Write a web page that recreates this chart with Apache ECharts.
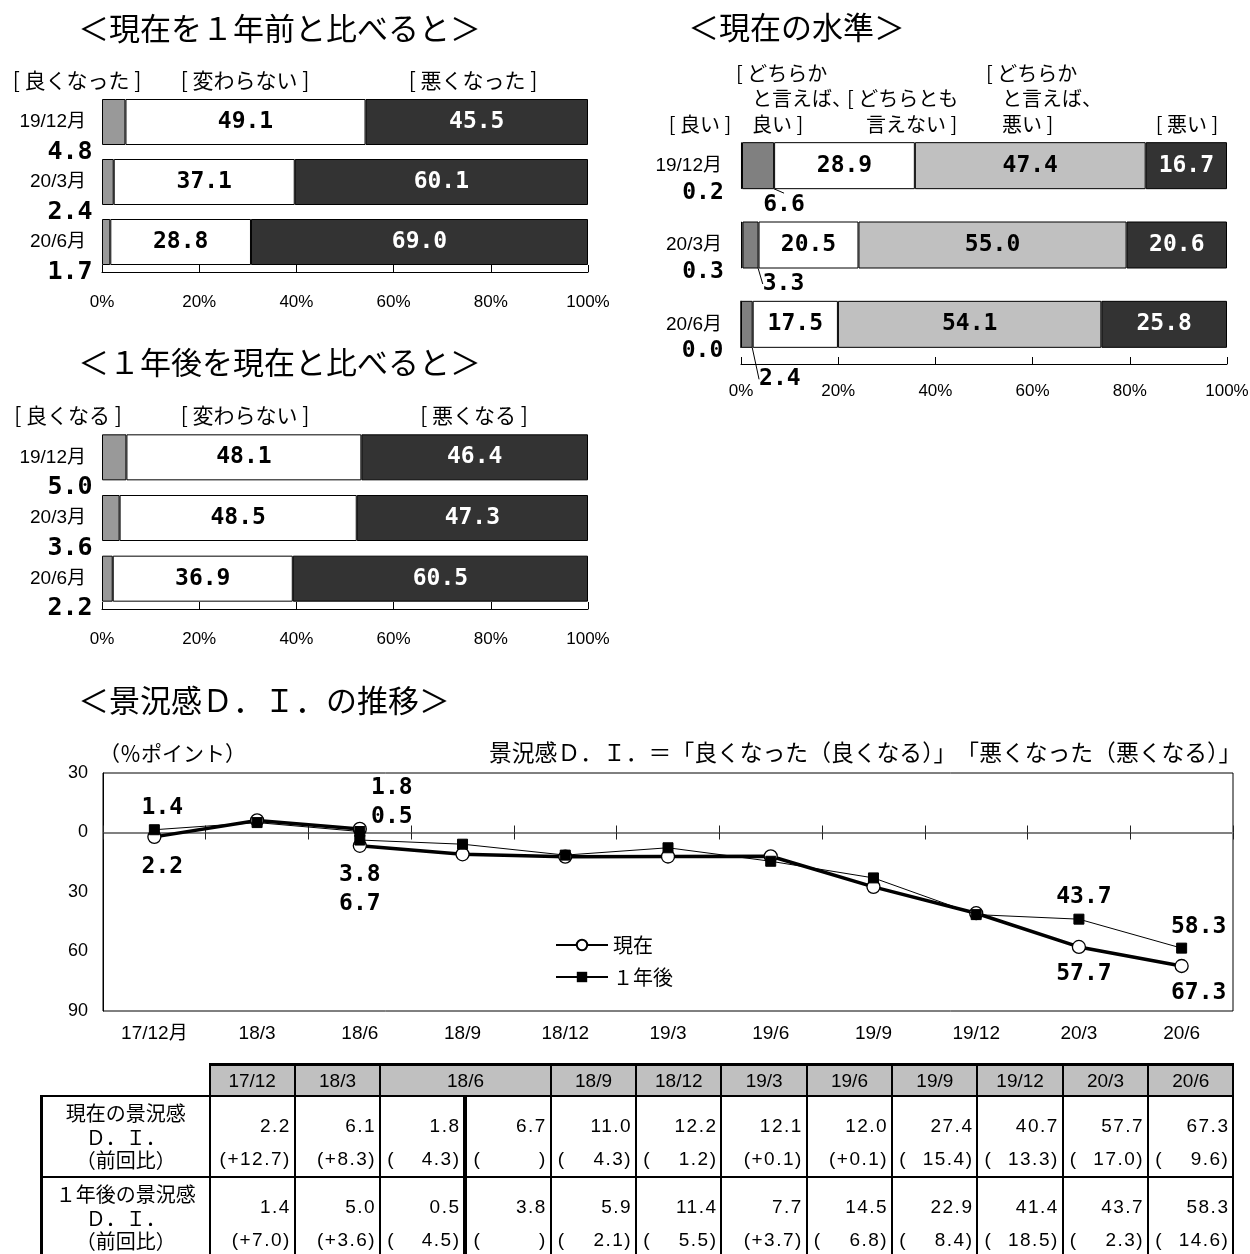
<!DOCTYPE html>
<html><head><meta charset="utf-8">
<script src="https://cdn.jsdelivr.net/npm/echarts@6/dist/echarts.min.js"></script>
<style>
html,body{margin:0;padding:0;background:#fff;width:1250px;height:1254px;overflow:hidden;}
#chart{position:absolute;left:0;top:0;width:1250px;height:1254px;}
#tbl{position:absolute;left:40px;top:1063px;border-collapse:collapse;table-layout:fixed;width:1192px;color:#000;}
#tbl th,#tbl td{border:2px solid #000;padding:0;}
#tbl td.corner{border:none;}
#tbl tr.hd th{background:#c0c0c0;height:29px;font-family:'Liberation Sans',sans-serif;font-weight:normal;font-size:19px;text-align:center;border-top:3px solid #000;}
#tbl th.rh{font-family:'Noto Sans CJK JP',sans-serif;font-weight:normal;font-size:20px;line-height:23.5px;text-align:center;vertical-align:top;padding-top:4px;border-left:3px solid #000;}
#tbl td{font-family:'Liberation Sans',sans-serif;font-size:19px;letter-spacing:1.5px;text-align:right;vertical-align:top;padding:0 3px 0 6px;}
#tbl tr.b1 td,#tbl tr.b1 th{height:75px;}
#tbl tr.b2 td,#tbl tr.b2 th{height:100px;}
#tbl td .v{padding-top:18px;line-height:22px;}
#tbl td .c{margin-top:11px;line-height:22px;display:flex;justify-content:space-between;}
#tbl td.sep{border-right:4px solid #000;}
</style></head><body>
<div id="chart"></div>
<table id="tbl"></table>
<script>
// ---------- data ----------
const barCats = ['19/12月', '20/3月', '20/6月'];
const pctTickLabels = ['0%', '20%', '40%', '60%', '80%', '100%'];

// <現在を1年前と比べると>
const nowBetter = [4.8, 2.4, 1.7];
const nowSame = [49.1, 37.1, 28.8];
const nowWorse = [45.5, 60.1, 69.0];

// <現在の水準>
const levelGood = [0.2, 0.3, 0.0];
const levelRatherGood = [6.6, 3.3, 2.4];
const levelNeither = [28.9, 20.5, 17.5];
const levelRatherBad = [47.4, 55.0, 54.1];
const levelBad = [16.7, 20.6, 25.8];

// <1年後を現在と比べると>
const futBetter = [5.0, 3.6, 2.2];
const futSame = [48.1, 48.5, 36.9];
const futWorse = [46.4, 47.3, 60.5];

// <景況感D.I.の推移>
const lineCats = ['17/12月', '18/3', '18/6', '18/9', '18/12', '19/3', '19/6', '19/9', '19/12', '20/3', '20/6'];
const tableCols = ['17/12', '18/3', '18/6', '18/9', '18/12', '19/3', '19/6', '19/9', '19/12', '20/3', '20/6'];
// survey columns: 18/6 was surveyed twice (old and new method)
const surveyCat = [0, 1, 2, 2, 3, 4, 5, 6, 7, 8, 9, 10];
const newMethodFrom = 3;
const diNow = [-2.2, 6.1, 1.8, -6.7, -11.0, -12.2, -12.1, -12.0, -27.4, -40.7, -57.7, -67.3];
const diNowChg = [12.7, 8.3, -4.3, null, -4.3, -1.2, 0.1, 0.1, -15.4, -13.3, -17.0, -9.6];
const diFut = [1.4, 5.0, 0.5, -3.8, -5.9, -11.4, -7.7, -14.5, -22.9, -41.4, -43.7, -58.3];
const diFutChg = [7.0, 3.6, -4.5, null, -2.1, -5.5, 3.7, -6.8, -8.4, -18.5, -2.3, -14.6];
const diAxis = {min: -90, max: 30, interval: 30};

// ---------- styles / positions ----------
const FONT_NUM = "'DejaVu Sans Mono', 'Liberation Mono', monospace";
const FONT_CJK = "'Noto Sans CJK JP', sans-serif";
const FONT_AX = "'Liberation Sans', 'Noto Sans CJK JP', sans-serif";
const nowLabelOffsets = {0: [8, 30], 2: [32, -41], 3: [0, 58], 10: [5, 27], 11: [17, 27]};
const futLabelOffsets = {0: [8, -22], 2: [32, -14], 3: [0, 35], 10: [5, -22], 11: [17, -21]};
const leaderOffsets = [[26, 39], [33, 39], [33, 55]];

// bars are drawn as shares of the answered total (so each bar reaches 100%),
// labels show the published percentages
function shares(groups) {
  const totals = groups[0].map((_, i) => groups.reduce((s, g) => s + g[i], 0));
  return groups.map(g => g.map((v, i) => ({value: v / totals[i] * 100, raw: v})));
}
const nowBars = shares([nowBetter, nowSame, nowWorse]);
const levelBars = shares([levelGood, levelRatherGood, levelNeither, levelRatherBad, levelBad]);
const futBars = shares([futBetter, futSame, futWorse]);

function pctAxis(gridIndex, margin) {
  return {
    type: 'value', gridIndex, min: 0, max: 100, interval: 20,
    axisLine: {show: true, lineStyle: {color: '#000', width: 1}},
    axisTick: {show: true, inside: true, length: 7, lineStyle: {color: '#000', width: 1}},
    axisLabel: {show: true, color: '#000', fontFamily: FONT_AX, fontSize: 17, margin,
      formatter: v => pctTickLabels[Math.round(v / 20)]},
    splitLine: {show: false}
  };
}
function catAxis(gridIndex, margin) {
  return {
    type: 'category', gridIndex, data: barCats, inverse: true,
    axisLine: {show: false}, axisTick: {show: false},
    axisLabel: {color: '#000', fontFamily: FONT_AX, fontSize: 19, margin}
  };
}
function seg(name, idx, data, color, textColor, bw, labelExtra, extra) {
  const s = {
    type: 'bar', name, xAxisIndex: idx, yAxisIndex: idx, stack: 's' + idx, data,
    barWidth: bw,
    itemStyle: {color, borderColor: '#000', borderWidth: 1},
    label: Object.assign({
      show: true, position: 'inside', color: textColor, fontFamily: FONT_NUM,
      fontWeight: 'bold', fontSize: 23, textBorderWidth: 0, textBorderColor: 'transparent',
      formatter: p => p.data.raw.toFixed(1)
    }, labelExtra || {}),
    emphasis: {disabled: true}, animation: false
  };
  return Object.assign(s, extra || {});
}
const leftLabel = {position: [-32, 53], align: 'center', verticalAlign: 'middle', fontSize: 25, color: '#000'};
const leftLabelR = {position: [-38, 51], align: 'center', verticalAlign: 'middle', fontSize: 23, color: '#000'};

function diSeries(name, values, from, to, offsets, isNow) {
  const data = [];
  for (let i = from; i < to; i++) {
    const item = {value: [surveyCat[i], values[i]]};
    if (offsets[i]) item.label = {show: true, offset: offsets[i]};
    data.push(item);
  }
  return {
    type: 'line', name, xAxisIndex: 3, yAxisIndex: 3, data,
    symbol: isNow ? 'circle' : 'rect', symbolSize: isNow ? 13 : 10,
    lineStyle: {color: '#000', width: isNow ? 3.5 : 1},
    itemStyle: isNow ? {color: '#fff', borderColor: '#000', borderWidth: 1.3} : {color: '#000', borderColor: '#000'},
    label: {show: false, position: 'inside', color: '#000', fontFamily: FONT_NUM, fontWeight: 'bold',
      fontSize: 23, textBorderWidth: 0, textBorderColor: 'transparent',
      formatter: p => Math.abs(p.value[1]).toFixed(1)},
    z: isNow ? 3 : 4, animation: false, emphasis: {disabled: true}
  };
}

const texts = [
  {t: '＜現在を１年前と比べると＞', x: 78, y: 28, s: 31},
  {t: '＜現在の水準＞', x: 688, y: 27, s: 31},
  {t: '＜１年後を現在と比べると＞', x: 78, y: 362, s: 31},
  {t: '＜景況感Ｄ．Ｉ．の推移＞', x: 78, y: 700, s: 31},
  {t: '[ 良くなった ]', x: 77, y: 80, s: 21, a: 'center'},
  {t: '[ 変わらない ]', x: 245, y: 80, s: 21, a: 'center'},
  {t: '[ 悪くなった ]', x: 473, y: 80, s: 21, a: 'center'},
  {t: '[ 良くなる ]', x: 68, y: 415, s: 21, a: 'center'},
  {t: '[ 変わらない ]', x: 245, y: 415, s: 21, a: 'center'},
  {t: '[ 悪くなる ]', x: 474, y: 415, s: 21, a: 'center'},
  {t: '[ どちらか', x: 736, y: 73, s: 20},
  {t: '[ どちらか', x: 986, y: 73, s: 20},
  {t: 'と言えば、', x: 752, y: 98, s: 20},
  {t: '[ どちらとも', x: 847, y: 98, s: 20},
  {t: 'と言えば、', x: 1002, y: 98, s: 20},
  {t: '[ 良い ]', x: 700, y: 124, s: 20, a: 'center'},
  {t: '良い ]', x: 752, y: 124, s: 20},
  {t: '言えない ]', x: 866, y: 124, s: 20},
  {t: '悪い ]', x: 1002, y: 124, s: 20},
  {t: '[ 悪い ]', x: 1187, y: 124, s: 20, a: 'center'},
  {t: '（％ポイント）', x: 99, y: 753, s: 21},
  {t: '景況感Ｄ．Ｉ．＝「良くなった（良くなる）」　「悪くなった（悪くなる）」', x: 489, y: 752, s: 22.8}
];

const chart = echarts.init(document.getElementById('chart'), null, {renderer: 'canvas'});
const option = {
  backgroundColor: '#fff',
  animation: false,
  grid: [
    {left: 102, top: 92, width: 486, height: 180, outerBoundsMode: 'none'},
    {left: 741, top: 126, width: 486, height: 238, outerBoundsMode: 'none'},
    {left: 102, top: 427, width: 486, height: 182, outerBoundsMode: 'none'},
    {left: 103, top: 773, width: 1130, height: 238, outerBoundsMode: 'none',
      show: true, borderColor: '#000', borderWidth: 1, backgroundColor: 'transparent'}
  ],
  xAxis: [
    pctAxis(0, 22), pctAxis(1, 19), pctAxis(2, 22),
    {type: 'category', gridIndex: 3, data: lineCats, position: 'bottom', boundaryGap: true,
      axisLine: {show: false, onZero: false}, axisTick: {show: false},
      axisLabel: {interval: 0, color: '#000', fontFamily: FONT_AX, fontSize: 19, margin: 13}},
    {type: 'category', gridIndex: 3, data: lineCats, position: 'top', boundaryGap: true,
      axisLine: {show: true, onZero: true, onZeroAxisIndex: 3, lineStyle: {color: '#808080', width: 2}},
      axisTick: {show: true, interval: 0, length: 7, lineStyle: {color: '#222', width: 1}},
      axisLabel: {show: false}},
    {type: 'category', gridIndex: 3, data: lineCats, position: 'bottom', boundaryGap: true,
      axisLine: {show: false, onZero: true, onZeroAxisIndex: 3},
      axisTick: {show: true, interval: 0, length: 7, lineStyle: {color: '#222', width: 1}},
      axisLabel: {show: false}}
  ],
  yAxis: [
    catAxis(0, 16), catAxis(1, 19), catAxis(2, 16),
    {type: 'value', gridIndex: 3, min: diAxis.min, max: diAxis.max, interval: diAxis.interval,
      axisLine: {show: true, onZero: false, lineStyle: {color: '#000', width: 1}},
      axisTick: {show: false}, splitLine: {show: false},
      axisLabel: {color: '#000', fontFamily: FONT_AX, fontSize: 18, margin: 15,
        formatter: v => String(Math.abs(v))}}
  ],
  legend: {
    data: ['現在', '１年後'], orient: 'vertical', left: 550, top: 930,
    itemWidth: 52, itemHeight: 13, itemGap: 12, selectedMode: false,
    textStyle: {fontFamily: FONT_CJK, fontSize: 20, color: '#000'}
  },
  series: [
    seg('良くなった', 0, nowBars[0], '#999999', '#000', 46, leftLabel),
    seg('変わらない', 0, nowBars[1], '#ffffff', '#000', 46),
    seg('悪くなった', 0, nowBars[2], '#333333', '#fff', 46),

    seg('良い', 1, levelBars[0], '#ffffff', '#000', 47, leftLabelR),
    seg('どちらかと言えば良い', 1, levelBars[1], '#808080', '#000', 47, null, {
      labelLayout: p => ({dx: leaderOffsets[p.dataIndex][0], dy: leaderOffsets[p.dataIndex][1]}),
      labelLine: {show: true, lineStyle: {color: '#000', width: 1}}
    }),
    seg('どちらとも言えない', 1, levelBars[2], '#ffffff', '#000', 47),
    seg('どちらかと言えば悪い', 1, levelBars[3], '#c0c0c0', '#000', 47),
    seg('悪い', 1, levelBars[4], '#333333', '#fff', 47),

    seg('良くなる', 2, futBars[0], '#999999', '#000', 46, leftLabel),
    seg('変わらない', 2, futBars[1], '#ffffff', '#000', 46),
    seg('悪くなる', 2, futBars[2], '#333333', '#fff', 46),

    diSeries('現在', diNow, 0, newMethodFrom, nowLabelOffsets, true),
    diSeries('現在', diNow, newMethodFrom, diNow.length, nowLabelOffsets, true),
    diSeries('１年後', diFut, 0, newMethodFrom, futLabelOffsets, false),
    diSeries('１年後', diFut, newMethodFrom, diFut.length, futLabelOffsets, false)
  ],
  graphic: texts.map(o => ({
    type: 'text', x: o.x, y: o.y, silent: true,
    style: {text: o.t, fontFamily: FONT_CJK, fontSize: o.s, fill: '#000',
      align: o.a || 'left', textAlign: o.a || 'left', verticalAlign: 'middle', textVerticalAlign: 'middle'}
  }))
};
chart.setOption(option);

// ---------- table ----------
function row(cls, lines, vals, chg) {
  let s = '<tr class="' + cls + '"><th class="rh">' + lines.join('<br>') + '</th>';
  vals.forEach((v, i) => {
    const c = chg[i];
    let cs;
    if (c == null) cs = '<span>(</span><span>)</span>';
    else if (c >= 0) cs = '<span></span><span>(+' + c.toFixed(1) + ')</span>';
    else cs = '<span>(</span><span>' + Math.abs(c).toFixed(1) + ')</span>';
    s += '<td' + (i === 2 ? ' class="sep"' : '') + '><div class="v">' + Math.abs(v).toFixed(1) +
      '</div><div class="c">' + cs + '</div></td>';
  });
  return s + '</tr>';
}
let html = '<colgroup><col style="width:168px">' + '<col style="width:85.33px">'.repeat(12) + '</colgroup>';
html += '<tr class="hd"><td class="corner"></td>' +
  tableCols.map(c => '<th' + (c === '18/6' ? ' colspan="2"' : '') + '>' + c + '</th>').join('') + '</tr>';
html += row('b1', ['現在の景況感', 'Ｄ．Ｉ．', '（前回比）'], diNow, diNowChg);
html += row('b2', ['１年後の景況感', 'Ｄ．Ｉ．', '（前回比）'], diFut, diFutChg);
document.getElementById('tbl').innerHTML = html;
</script>
</body></html>
